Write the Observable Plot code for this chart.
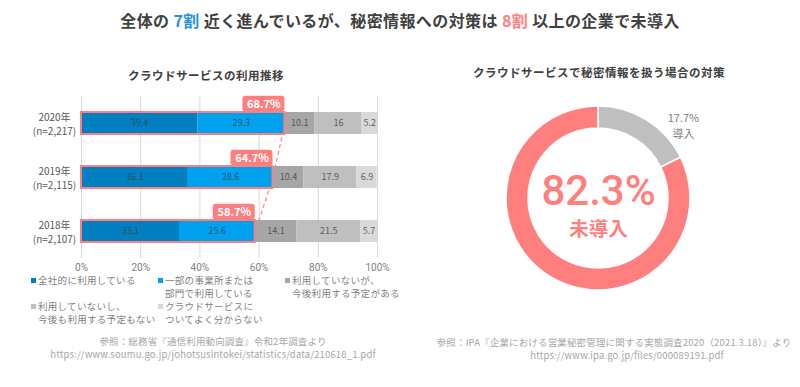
<!DOCTYPE html>
<html><head><meta charset="utf-8">
<script src="https://cdn.jsdelivr.net/npm/d3@7"></script>
<script src="https://cdn.jsdelivr.net/npm/@observablehq/plot@0.6"></script>
<style>
body{margin:0;background:#fff;font-family:'Noto Sans CJK JP','Noto Sans',sans-serif;}
#root{position:relative;width:800px;height:387px;overflow:hidden;background:#fff;}
.abs{position:absolute;white-space:nowrap;}
.title{left:0;width:800px;top:9px;text-align:center;font-size:16px;font-weight:bold;color:#404040;letter-spacing:0.4px;line-height:22px;}
.sub{font-size:11.5px;font-weight:bold;color:#404040;letter-spacing:0.5px;line-height:14px;transform:translateX(-50%);}
.cap{font-size:9.5px;color:#A6A6A6;line-height:10px;letter-spacing:0.15px;transform:translateX(-50%);}
.legline{font-size:9.5px;color:#7F7F7F;line-height:10px;letter-spacing:0.3px;}
.mk{position:absolute;width:5px;height:5px;}
</style></head><body><div id="root"></div>
<script>
// ---------- data ----------
const years = ["2020", "2019", "2018"];
const sampleSizes = ["2,217", "2,115", "2,107"];
const categories = [
  "全社的に利用している",
  "一部の事業所または\n部門で利用している",
  "利用していないが、\n今後利用する予定がある",
  "利用していないし、\n今後も利用する予定もない",
  "クラウドサービスに\nついてよく分からない"
];
const categoryColors = ["#0080C0", "#00A2F0", "#A6A6A6", "#BFBFBF", "#D9D9D9"];
const usedCompanyWide = [39.4, 36.1, 33.1];
const usedPartially = [29.3, 28.6, 25.6];
const notUsedButPlanned = [10.1, 10.4, 14.1];
const notUsedNotPlanned = [16, 17.9, 21.5];
const dontKnow = [5.2, 6.9, 5.7];
const xTicks = [0, 20, 40, 60, 80, 100];

const donutLabels = ["導入", "未導入"];
const donutValues = [17.7, 82.3];
const donutColors = ["#BFBFBF", "#FF7F7F"];
const donutInnerRatio = 70 / 92;

const mainTitleParts = [
  {t: "全体の ", c: null}, {t: "7割", c: "#2A8FD6"}, {t: " 近く進んでいるが、秘密情報への対策は ", c: null},
  {t: "8割", c: "#FF7F7F"}, {t: " 以上の企業で未導入", c: null}
];
const leftTitle = "クラウドサービスの利用推移";
const rightTitle = "クラウドサービスで秘密情報を扱う場合の対策";
const leftCaption = ["参照：総務省『通信利用動向調査』令和2年調査より", "https://www.soumu.go.jp/johotsusintokei/statistics/data/210618_1.pdf"];
const rightCaption = ["参照：IPA『企業における営業秘密管理に関する実態調査2020（2021.3.18）』より", "https://www.ipa.go.jp/files/000089191.pdf"];

// ---------- derived tables ----------
const series = [usedCompanyWide, usedPartially, notUsedButPlanned, notUsedNotPlanned, dontKnow];
const long = [];
years.forEach((y, i) => categories.forEach((c, j) => long.push({year: y, cat: c, value: series[j][i]})));
const rows = years.map((y, i) => ({year: y, total: +(usedCompanyWide[i] + usedPartially[i]).toFixed(1)}));
const pairs = rows.slice(0, -1).map((r, i) => ({y1: r.year, x1: r.total, y2: rows[i + 1].year, x2: rows[i + 1].total}));
const yLabel = Object.fromEntries(years.map((y, i) => [y, `${y}年\n(n=${sampleSizes[i]})`]));
const donutRows = donutLabels.map((l, i) => ({label: l, value: donutValues[i], color: donutColors[i]}));

const root = document.getElementById("root");
function addDiv(cls, style, html) {
  const d = document.createElement("div");
  d.className = "abs " + cls;
  Object.assign(d.style, style);
  if (html instanceof Node) d.appendChild(html); else d.textContent = html;
  root.appendChild(d);
  return d;
}

// main title
const mt = addDiv("title", {}, "");
mainTitleParts.forEach(p => {
  const s = document.createElement("span");
  s.textContent = p.t;
  if (p.c) s.style.color = p.c;
  s.style.whiteSpace = "pre";
  mt.appendChild(s);
});
addDiv("sub", {left: "206px", top: "68px"}, leftTitle);
addDiv("sub", {left: "599px", top: "65px"}, rightTitle);

// ---------- left bar chart ----------
const font = "'Noto Sans CJK JP','Noto Sans',sans-serif";
const bar = Plot.plot({
  width: 400, height: 190,
  marginLeft: 81, marginRight: 23, marginTop: 6, marginBottom: 22,
  style: {fontFamily: font, background: "transparent", overflow: "visible"},
  x: {domain: [0, 100]},
  y: {domain: years, paddingInner: 0.6, paddingOuter: 0.3},
  color: {domain: categories, range: categoryColors},
  marks: [
    Plot.gridX(xTicks, {stroke: "#D9D9D9", strokeOpacity: 1}),
    Plot.link(pairs, {x1: "x1", y1: "y1", x2: "x2", y2: "y2", stroke: "#FF7F7F", strokeWidth: 1.2, strokeDasharray: "4,3"}),
    Plot.barX(long, Plot.stackX({x: "value", y: "year", fill: "cat"})),
    Plot.text(long, Plot.stackX({x: "value", y: "year", z: "cat", text: d => String(d.value), fill: "#404040", fillOpacity: 0.8, fontSize: 9})),
    Plot.barX(rows, {x1: d => 0, x2: "total", y: "year", fill: "none", stroke: "#FF7F7F", strokeWidth: 2}),
    Plot.barX(rows, {x1: "total", x2: "total", y: "year", insetLeft: -42, insetTop: 3.3, insetBottom: 3.3, dy: -19.5, fill: "#FF7F7F", rx: 3}),
    Plot.text(rows, {x: "total", y: "year", text: d => d.total.toFixed(1) + "%", dx: -21, dy: -19.5, fill: "#fff", fontWeight: "bold", fontSize: 11}),
    Plot.axisX(xTicks, {tickSize: 0, tickPadding: 5, tickFormat: d => d + "%", fontSize: 10, fill: "#7F7F7F", label: null, fontFamily: "Roboto, 'Noto Sans', sans-serif"}),
    Plot.axisY({tickSize: 0, tickPadding: 27, textAnchor: "middle", tickFormat: d => yLabel[d], lineHeight: 1.4, fontSize: 10, fill: "#595959", label: null})
  ]
});
addDiv("", {left: "0px", top: "90px"}, bar);

// legend
categories.forEach((c, i) => {
  const left = 31 + (i % 3) * 127;
  const top0 = 279.5 + Math.floor(i / 3) * 26;
  const mk = document.createElement("div");
  mk.className = "mk";
  mk.style.left = left + "px";
  mk.style.top = (top0 - 2) + "px";
  mk.style.background = categoryColors[i];
  root.appendChild(mk);
  c.split("\n").forEach((line, k) => {
    addDiv("legline", {left: (left + 7) + "px", top: (top0 - 5 + k * 13) + "px"}, line);
  });
});

addDiv("cap", {left: "213px", top: "336px"}, leftCaption[0]);
addDiv("cap", {left: "213px", top: "349px"}, leftCaption[1]);

// ---------- right donut ----------
const donutMark = (index, scales, values, dimensions, context) => {
  const cx = scales.x(0), cy = scales.y(0);
  const r = Math.abs(scales.x(1) - scales.x(0));
  const arcs = d3.pie().sort(null).value(d => d.value)(donutRows);
  const arc = d3.arc().innerRadius(r * donutInnerRatio).outerRadius(r);
  const g = d3.create("svg:g").attr("transform", `translate(${cx},${cy})`);
  g.selectAll("path").data(arcs).join("path")
    .attr("d", arc).attr("fill", d => d.data.color)
    .attr("stroke", "#fff").attr("stroke-width", 1.5);
  return g.node();
};
const mainSlice = donutRows.filter(d => d.label === "未導入");
const minorSlice = donutRows.filter(d => d.label === "導入");
const donut = Plot.plot({
  width: 400, height: 210,
  marginLeft: 106, marginRight: 110, marginTop: 16, marginBottom: 10,
  style: {fontFamily: font, background: "transparent", overflow: "visible"},
  x: {domain: [-1, 1], axis: null},
  y: {domain: [-1, 1], axis: null},
  marks: [
    donutMark,
    Plot.text(mainSlice, {x: d => 0, y: d => 0, text: d => d.value.toFixed(1) + "%", dy: -7, fill: "#FF7F7F", fontSize: 42, fontWeight: 500, fontFamily: "Roboto, 'Noto Sans', sans-serif"}),
    Plot.text(mainSlice, {x: d => 0, y: d => 0, text: d => d.label, dy: 31, fill: "#FF7F7F", fontSize: 19.5, fontWeight: "bold"}),
    Plot.text(minorSlice, {x: d => 0, y: d => 0, text: d => d.value.toFixed(1) + "%\n" + d.label, dx: 85, dy: -74, lineHeight: 1.45, fill: "#7F7F7F", fontSize: 11})
  ]
});
addDiv("", {left: "400px", top: "90px"}, donut);

addDiv("cap", {left: "614px", top: "337px"}, rightCaption[0]);
addDiv("cap", {left: "627px", top: "350px"}, rightCaption[1]);
</script></body></html>
